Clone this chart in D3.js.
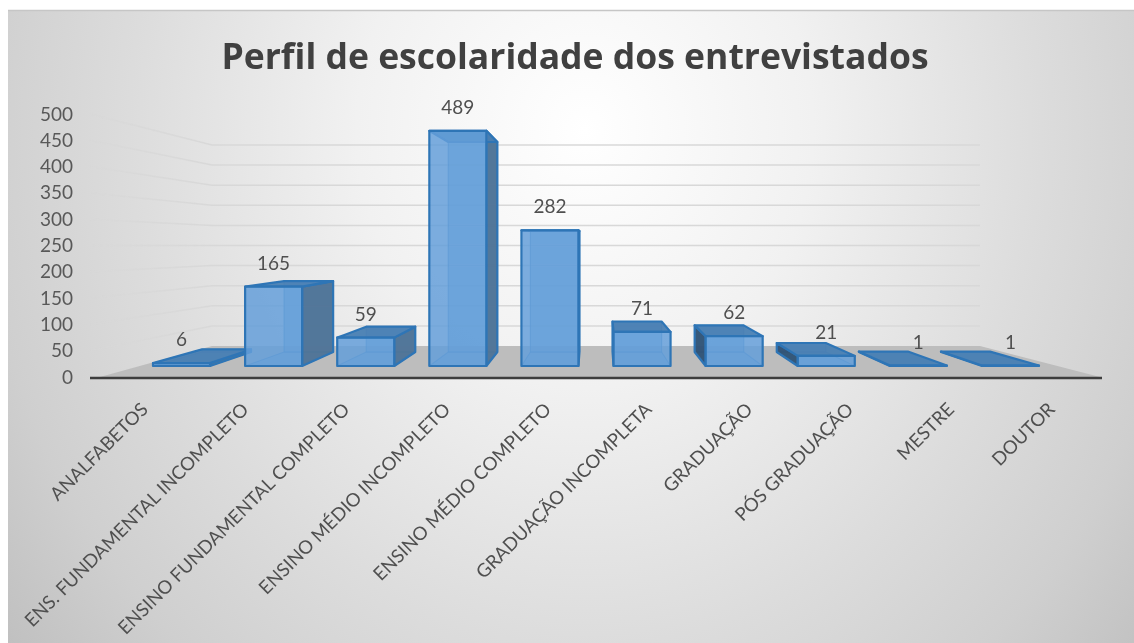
<!DOCTYPE html>
<html><head><meta charset="utf-8">
<script src="https://cdn.jsdelivr.net/npm/d3@7"></script>
<style>html,body{margin:0;padding:0;background:#fff}svg{display:block}text{font-family:Lato,"Open Sans",sans-serif}</style>
</head><body><div id="c"></div>
<script>
const categories = ["ANALFABETOS","ENS. FUNDAMENTAL INCOMPLETO","ENSINO FUNDAMENTAL COMPLETO","ENSINO MÉDIO INCOMPLETO","ENSINO MÉDIO COMPLETO","GRADUAÇÃO INCOMPLETA","GRADUAÇÃO","PÓS GRADUAÇÃO","MESTRE","DOUTOR"];
const values = [6,165,59,489,282,71,62,21,1,1];
const yTicks = [0,50,100,150,200,250,300,350,400,450,500];
const title = "Perfil de escolaridade dos entrevistados";

const W=1134,H=643;
const svg=d3.select("#c").append("svg").attr("width",W).attr("height",H);
const defs=svg.append("defs");
const bg=defs.append("radialGradient").attr("id","bg").attr("gradientUnits","userSpaceOnUse")
  .attr("cx",0).attr("cy",0).attr("r",1).attr("gradientTransform","translate(585,130) scale(760,860)");
[[0,"#ffffff"],[.3,"#f1f1f1"],[.6,"#dcdcdc"],[.8,"#cfcfcf"],[1,"#bdbdbd"]].forEach(s=>bg.append("stop").attr("offset",s[0]).attr("stop-color",s[1]));
const fade=defs.append("linearGradient").attr("id","fade").attr("gradientUnits","userSpaceOnUse").attr("x1",90).attr("x2",212).attr("y1",0).attr("y2",0);
fade.append("stop").attr("offset",0).attr("stop-color","#d8d8d8").attr("stop-opacity",.25);
fade.append("stop").attr("offset",.4).attr("stop-color","#d8d8d8").attr("stop-opacity",.85);
fade.append("stop").attr("offset",1).attr("stop-color","#d8d8d8").attr("stop-opacity",1);
defs.append("filter").attr("id","soft").attr("x","-5%").attr("y","-5%").attr("width","110%").attr("height","110%")
  .append("feGaussianBlur").attr("stdDeviation",.5);

svg.append("rect").attr("x",8).attr("y",10).attr("width",W-8).attr("height",H-10).attr("fill","url(#bg)");
svg.append("line").attr("x1",8).attr("x2",W).attr("y1",10.5).attr("y2",10.5).attr("stroke","#c6c6c6").attr("stroke-width",1.5);

const root=svg.append("g").attr("filter","url(#soft)");

// scales: axis plane, back wall, front and rear of the bars
const yAxis=d3.scaleLinear().domain([0,500]).range([377,114]);
const yWall=d3.scaleLinear().domain([0,500]).range([346,145]);
const yFront=d3.scaleLinear().domain([0,500]).range([366,125.5]);
const yRear=d3.scaleLinear().domain([0,500]).range([352,137.3]);
const x=d3.scaleBand().domain(categories).range([153,1039]).paddingInner(.381).paddingOuter(0);
const xRear=d3.scaleLinear().domain([153,982]).range([202,941]);
const xLabel=d3.scalePoint().domain(categories).range([144,1051]);
const wallL=212,wallR=980,floorL=100,floorR=1100,sideX=90;

// floor
const line=d3.line();
root.append("path").attr("d",line([[floorL,yAxis(0)],[wallL,yWall(0)],[wallR,yWall(0)],[floorR,yAxis(0)]])+"Z").attr("fill","#bdbdbd");

// walls
root.append("g").selectAll("line").data(yTicks.filter(d=>d>0)).join("line")
  .attr("x1",wallL).attr("x2",wallR).attr("y1",d=>yWall(d)).attr("y2",d=>yWall(d))
  .attr("stroke","#d8d8d8").attr("stroke-width",1.5);
root.append("g").selectAll("path").data(yTicks.filter(d=>d>0)).join("path")
  .attr("d",d=>line([[sideX,yAxis(d)],[wallL,yWall(d)]])).attr("fill","none")
  .attr("stroke","url(#fade)").attr("stroke-width",1.5);

// bars
const blue="#2e75b6";
const bars=root.append("g").selectAll("g").data(values.map((v,i)=>({v,c:categories[i]}))).join("g");
function face(g,pts,fill,op,sOp=1,sW=2.2){g.append("path").attr("d",line(pts)+"Z").attr("fill",fill).attr("fill-opacity",op)
  .attr("stroke",blue).attr("stroke-opacity",sOp).attr("stroke-width",sW).attr("stroke-linejoin","round");}
bars.each(function(d){
  const g=d3.select(this);
  const fl=x(d.c),fr=fl+x.bandwidth(),rl=xRear(fl),rr=rl+x.bandwidth()*.86;
  const f0=yFront(0),f1=yFront(d.v),r0=yRear(0),r1=yRear(d.v);
  face(g,[[fl,f0],[fr,f0],[rr,r0],[rl,r0]],"#5b9bd5",.45,.6,1.2);
  face(g,[[rl,r0],[rr,r0],[rr,r1],[rl,r1]],"#5b9bd5",.55,.6,1.2);
  if(rr>fr-1) face(g,[[fr,f0],[rr,r0],[rr,r1],[fr,f1]],"#4f7396",.95);
  if(rl<fl+1) face(g,[[fl,f0],[rl,r0],[rl,r1],[fl,f1]],"#2f5072",.92);
  face(g,[[fl,f1],[fr,f1],[rr,r1],[rl,r1]],"#4a7fb3",.95);
  face(g,[[fl,f0],[fr,f0],[fr,f1],[fl,f1]],"#649fd9",.85);
});

// data labels
root.append("g").selectAll("text").data(values).join("text")
  .attr("x",(d,i)=>x(categories[i])+x.bandwidth()/2).attr("y",d=>yFront(d)-17)
  .attr("text-anchor","middle").attr("font-size",19).attr("fill","#505050").text(d=>d);

// baseline
root.append("line").attr("x1",sideX).attr("x2",1102).attr("y1",yAxis(0)+1).attr("y2",yAxis(0)+1).attr("stroke","#3c3c3c").attr("stroke-width",2.5);

// axes
const ay=root.append("g").attr("transform","translate(73,0)")
  .call(d3.axisLeft(yAxis).tickValues(yTicks).tickSize(0).tickPadding(0));
ay.select(".domain").remove();
ay.selectAll("text").attr("font-size",19).attr("fill","#595959").style("font-family","Lato");

const ax=root.append("g").attr("transform","translate(0,406)")
  .call(d3.axisBottom(xLabel).tickSize(0).tickPadding(0));
ax.select(".domain").remove();
ax.selectAll("text").attr("font-size",18.6).attr("fill","#505050").style("font-family","Lato")
  .attr("text-anchor","end").attr("y",0).attr("dy",".35em").attr("transform","rotate(-45)");

// title
root.append("text").attr("x",575).attr("y",68.5).attr("text-anchor","middle").attr("font-size",35.5)
  .attr("font-weight",700).attr("fill","#404040").style("font-family","'Open Sans'").style("font-variant-ligatures","none").text(title);
</script></body></html>
